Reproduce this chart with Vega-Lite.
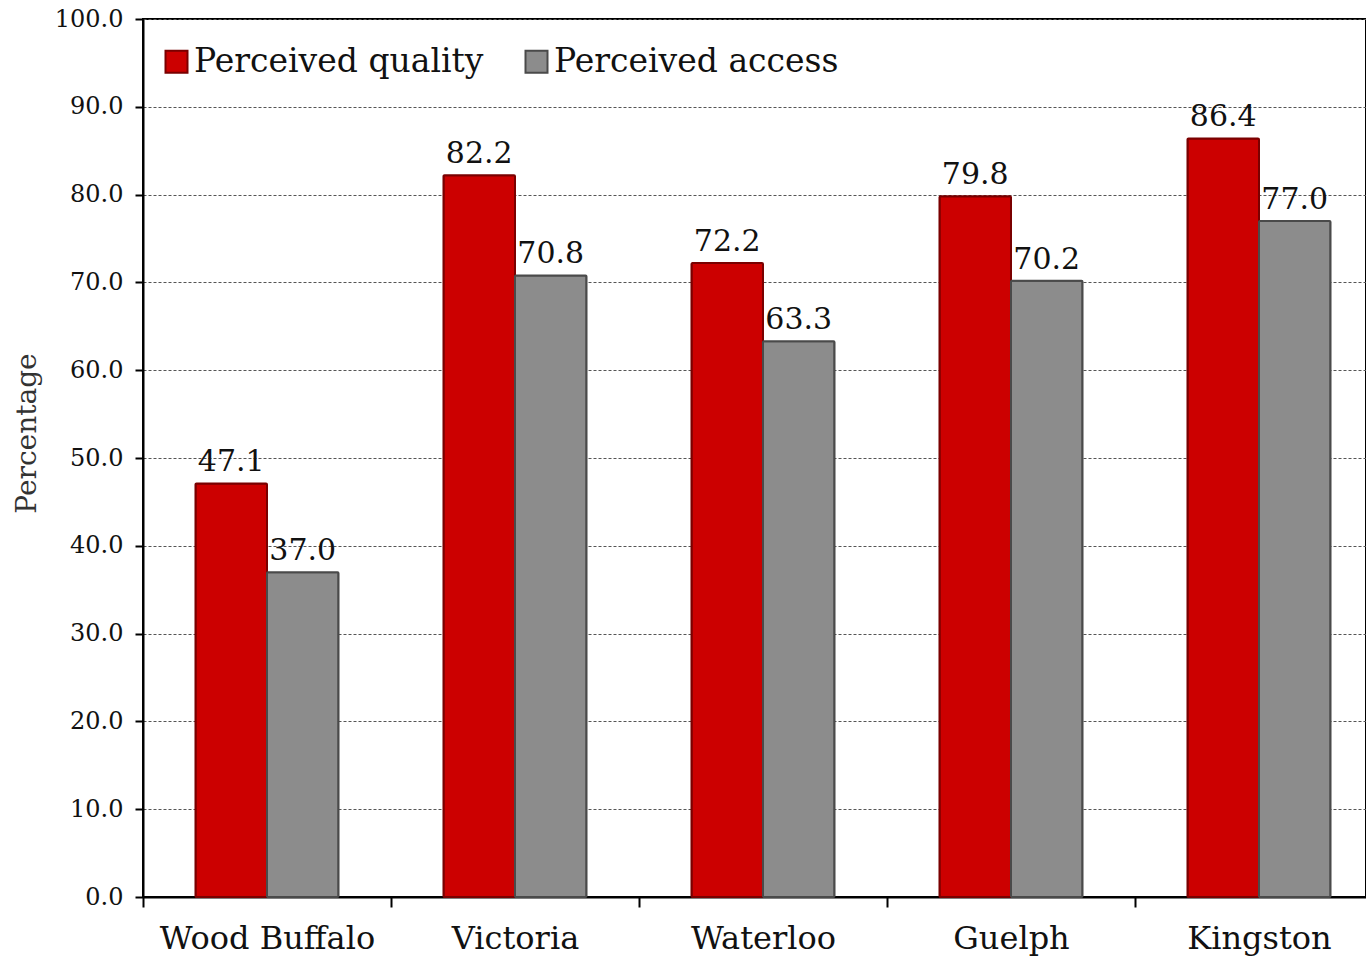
{
  "$schema": "https://vega.github.io/schema/vega-lite/v6.json",
  "width": 1223,
  "height": 878,
  "autosize": "none",
  "padding": {"left": 143, "top": 19, "right": 0, "bottom": 62},
  "background": "white",
  "config": {
    "font": "DejaVu Serif",
    "view": {"stroke": "black", "strokeWidth": 2}
  },
  "data": {
    "values": [
      {"city": "Wood Buffalo", "measure": "Perceived quality", "pct": 47.1},
      {"city": "Wood Buffalo", "measure": "Perceived access", "pct": 37.0},
      {"city": "Victoria", "measure": "Perceived quality", "pct": 82.2},
      {"city": "Victoria", "measure": "Perceived access", "pct": 70.8},
      {"city": "Waterloo", "measure": "Perceived quality", "pct": 72.2},
      {"city": "Waterloo", "measure": "Perceived access", "pct": 63.3},
      {"city": "Guelph", "measure": "Perceived quality", "pct": 79.8},
      {"city": "Guelph", "measure": "Perceived access", "pct": 70.2},
      {"city": "Kingston", "measure": "Perceived quality", "pct": 86.4},
      {"city": "Kingston", "measure": "Perceived access", "pct": 77.0}
    ]
  },
  "encoding": {
    "x": {
      "field": "city",
      "type": "nominal",
      "sort": null,
      "scale": {"range": [0, 1240], "paddingInner": 0, "paddingOuter": 0},
      "axis": {
        "title": null,
        "labelAngle": 0,
        "labelFontSize": 32,
        "labelLimit": 400,
        "labelColor": "#111111",
        "labelPadding": 16,
        "domainColor": "black",
        "domainWidth": 2,
        "tickBand": "extent",
        "tickColor": "black",
        "tickWidth": 2,
        "tickSize": 10,
        "grid": false
      }
    },
    "xOffset": {
      "field": "measure",
      "type": "nominal",
      "sort": ["Perceived quality", "Perceived access"],
      "scale": {"paddingInner": 0, "paddingOuter": 0.734}
    },
    "y": {
      "field": "pct",
      "type": "quantitative",
      "scale": {"domain": [0, 100], "nice": false, "zero": true},
      "axis": {
        "title": "Percentage",
        "titleFontSize": 28,
        "titleFontWeight": "normal",
        "titleColor": "#333333",
        "titleX": -116,
        "titleY": 414,
        "titleAlign": "center",
        "titleBaseline": "middle",
        "values": [0, 10, 20, 30, 40, 50, 60, 70, 80, 90, 100],
        "format": ".1f",
        "labelFontSize": 24,
        "labelColor": "#111111",
        "labelPadding": 12,
        "domainColor": "black",
        "domainWidth": 2,
        "tickColor": "black",
        "tickWidth": 2,
        "tickSize": 8,
        "grid": true,
        "gridColor": "#555555",
        "gridWidth": 1,
        "gridDash": [3, 2]
      }
    }
  },
  "layer": [
    {
      "mark": {"type": "bar", "strokeWidth": 2, "cornerRadius": 1},
      "encoding": {
        "fill": {
          "field": "measure",
          "type": "nominal",
          "sort": ["Perceived quality", "Perceived access"],
          "scale": {"domain": ["Perceived quality", "Perceived access"], "range": ["#cc0000", "#8c8c8c"]},
          "legend": {
            "title": null,
            "orient": "none",
            "direction": "horizontal",
            "legendX": 17,
            "legendY": 26,
            "symbolType": "square",
            "symbolSize": 484,
            "symbolStrokeWidth": 2,
            "labelFontSize": 33,
            "labelColor": "#111111",
            "labelOffset": 1,
            "columnPadding": 36,
            "labelLimit": 400
          }
        },
        "stroke": {
          "field": "measure",
          "type": "nominal",
          "sort": ["Perceived quality", "Perceived access"],
          "scale": {"domain": ["Perceived quality", "Perceived access"], "range": ["#7a0000", "#4a4a4a"]},
          "legend": {
            "title": null,
            "orient": "none",
            "direction": "horizontal",
            "legendX": 17,
            "legendY": 26,
            "symbolType": "square",
            "symbolSize": 484,
            "symbolStrokeWidth": 2,
            "labelFontSize": 33,
            "labelColor": "#111111",
            "labelOffset": 1,
            "columnPadding": 36,
            "labelLimit": 400
          }
        }
      }
    },
    {
      "mark": {"type": "text", "baseline": "bottom", "dy": -6, "fontSize": 30, "color": "#111111"},
      "encoding": {
        "text": {"field": "pct", "type": "quantitative", "format": ".1f"}
      }
    }
  ]
}
